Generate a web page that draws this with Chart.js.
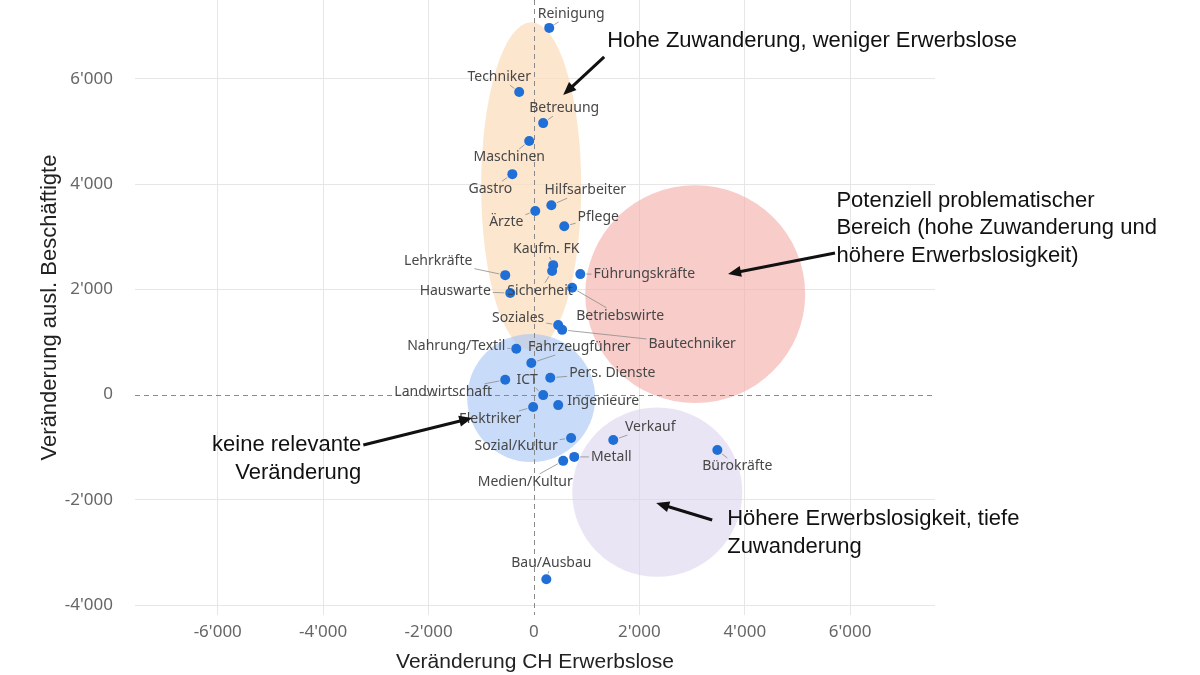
<!DOCTYPE html>
<html lang="de">
<head>
<meta charset="utf-8">
<title>Veränderung CH Erwerbslose vs. ausländische Beschäftigte</title>
<script src="https://cdn.jsdelivr.net/npm/chart.js@4.4.1/dist/chart.umd.min.js"></script>
<style>
	html, body { margin: 0; padding: 0; background: #fff; }
	#wrap { width: 1200px; height: 675px; }
</style>
</head>
<body>
<div id="wrap"><canvas id="chart" width="1200" height="675"></canvas></div>
<script>
// Data
const occupations = [
	'Reinigung', 'Techniker', 'Betreuung', 'Maschinen', 'Gastro', 'Hilfsarbeiter', 'Ärzte', 'Pflege',
	'Kaufm. FK', 'Sicherheit', 'Lehrkräfte', 'Führungskräfte', 'Hauswarte', 'Betriebswirte', 'Soziales',
	'Bautechniker', 'Nahrung/Textil', 'Fahrzeugführer', 'Landwirtschaft', 'ICT', 'Pers. Dienste',
	'Ingenieure', 'Elektriker', 'Sozial/Kultur', 'Verkauf', 'Metall', 'Medien/Kultur', 'Bürokräfte', 'Bau/Ausbau'
];
const changeUnemployed = [
	290, -280, 175, -90, -410, 330, 25, 575,
	365, 345, -545, 880, -450, 725, 460,
	535, -335, -50, -545, 175, 310,
	460, -15, 705, 1505, 765, 555, 3480, 235
];
const changeForeignEmployed = [
	6970, 5750, 5160, 4820, 4190, 3600, 3490, 3200,
	2460, 2350, 2270, 2290, 1930, 2030, 1320,
	1230, 870, 600, 280, -10, 320,
	-200, -235, -825, -865, -1185, -1260, -1055, -3510
];
const xTicks = [-6000, -4000, -2000, 0, 2000, 4000, 6000];
const yTicks = [-4000, -2000, 0, 2000, 4000, 6000];

// Label placement (pixel offset from the point to the label centre)
const labelOffsets = [
	[22, -14], [-20, -15], [21, -15], [-20, 16], [-22, 15], [34, -15], [-29, 11], [34, -9],
	[-7, -16], [-12, 20], [-67, -14], [64, 0], [-55, -2], [48, 28], [-40, -7],
	[130, 14], [-60, -3], [48, -16], [-62, 12], [-16, -15], [62, -5],
	[45, -4], [-43, 12], [-55, 8], [37, -13], [37, 0], [-38, 21], [20, 16], [5, -16]
];

// Shaded zones, in data units
const zones = [
	{ cx: -52, cy: 3957, rx: 949, ry: 3118, color: 'rgba(252,222,190,0.75)' },
	{ cx: 3060, cy: 1910, rx: 2087, ry: 2070, color: 'rgba(244,176,172,0.65)' },
	{ cx: 2340, cy: -1855, rx: 1613, ry: 1610, color: 'rgba(220,212,238,0.6)' },
	{ cx: -52, cy: -65, rx: 1214, ry: 1217, color: 'rgba(170,200,245,0.65)' }
];

// Callouts, in data units
const notes = [
	{ x: 1390, y: 6722, align: 'left', lines: ['Hohe Zuwanderung, weniger Erwerbslose'], from: [1333, 6418], to: [555, 5696] },
	{ x: 5740, y: 3681, align: 'left', lines: ['Potenziell problematischer', 'Bereich (hohe Zuwanderung und', 'höhere Erwerbslosigkeit)'], from: [5713, 2692], to: [3683, 2293] },
	{ x: -3276, y: -958, align: 'right', lines: ['keine relevante', 'Veränderung'], from: [-3238, -958], to: [-1172, -445] },
	{ x: 3667, y: -2365, align: 'left', lines: ['Höhere Erwerbslosigkeit, tiefe', 'Zuwanderung'], from: [3382, -2384], to: [2320, -2060] }
];

function fmtThousands(v) {
	const s = String(Math.abs(v)).replace(/\B(?=(\d{3})+(?!\d))/g, "'");
	return v < 0 ? '-' + s : s;
}

const LABEL_FONT = '14px "Noto Sans"';
const NOTE_FONT = '22px "Liberation Sans"';

const overlay = {
	id: 'overlay',
	beforeDatasetsDraw(chart) {
		const { ctx, chartArea: a, scales: { x, y } } = chart;
		ctx.save();
		ctx.beginPath();
		ctx.rect(a.left, a.top, a.right - a.left, a.bottom - a.top);
		ctx.clip();

		zones.forEach((z) => {
			const px = x.getPixelForValue(z.cx);
			const py = y.getPixelForValue(z.cy);
			ctx.fillStyle = z.color;
			ctx.beginPath();
			ctx.ellipse(px, py,
				Math.abs(x.getPixelForValue(z.cx + z.rx) - px),
				Math.abs(y.getPixelForValue(z.cy + z.ry) - py), 0, 0, Math.PI * 2);
			ctx.fill();
		});

		// dashed zero lines
		ctx.strokeStyle = '#8a8a8a';
		ctx.lineWidth = 1;
		ctx.setLineDash([5, 4]);
		const x0 = Math.round(x.getPixelForValue(0)) + 0.5;
		const y0 = Math.round(y.getPixelForValue(0)) + 0.5;
		ctx.beginPath();
		ctx.moveTo(x0, a.top); ctx.lineTo(x0, a.bottom);
		ctx.moveTo(a.left, y0); ctx.lineTo(a.right, y0);
		ctx.stroke();
		ctx.setLineDash([]);

		// leader lines
		ctx.font = LABEL_FONT;
		ctx.strokeStyle = '#8c8c8c';
		ctx.lineWidth = 0.8;
		occupations.forEach((name, i) => {
			const px = x.getPixelForValue(changeUnemployed[i]);
			const py = y.getPixelForValue(changeForeignEmployed[i]);
			const cx = px + labelOffsets[i][0];
			const cy = py + labelOffsets[i][1];
			const dx = px - cx, dy = py - cy;
			const len = Math.hypot(dx, dy);
			if (len < 1) return;
			const hw = ctx.measureText(name).width / 2 + 2;
			const hh = 8;
			const t = Math.min(dx ? hw / Math.abs(dx) : Infinity, dy ? hh / Math.abs(dy) : Infinity);
			if (t >= 1) return;
			const ex = cx + dx * t, ey = cy + dy * t;
			const sx = px - dx / len * 6, sy = py - dy / len * 6;
			if (Math.hypot(sx - ex, sy - ey) < 2 || (sx - ex) * dx + (sy - ey) * dy < 0) return;
			ctx.beginPath();
			ctx.moveTo(ex, ey);
			ctx.lineTo(sx, sy);
			ctx.stroke();
		});
		ctx.restore();
	},
	afterDatasetsDraw(chart) {
		const { ctx, scales: { x, y } } = chart;
		ctx.save();
		ctx.font = LABEL_FONT;
		ctx.fillStyle = '#474747';
		ctx.textAlign = 'center';
		ctx.textBaseline = 'middle';
		occupations.forEach((name, i) => {
			const px = x.getPixelForValue(changeUnemployed[i]);
			const py = y.getPixelForValue(changeForeignEmployed[i]);
			ctx.fillText(name, px + labelOffsets[i][0], py + labelOffsets[i][1]);
		});

		// callouts with arrows
		ctx.font = NOTE_FONT;
		ctx.fillStyle = '#111';
		ctx.strokeStyle = '#111';
		ctx.lineWidth = 3;
		notes.forEach((n) => {
			ctx.textAlign = n.align;
			const tx = x.getPixelForValue(n.x);
			const ty = y.getPixelForValue(n.y);
			n.lines.forEach((line, k) => ctx.fillText(line, tx, ty + k * 27.5));

			const fx = x.getPixelForValue(n.from[0]), fy = y.getPixelForValue(n.from[1]);
			const ax = x.getPixelForValue(n.to[0]), ay = y.getPixelForValue(n.to[1]);
			const ang = Math.atan2(ay - fy, ax - fx);
			const head = 13, wing = 5.5;
			ctx.beginPath();
			ctx.moveTo(fx, fy);
			ctx.lineTo(ax - Math.cos(ang) * head * 0.8, ay - Math.sin(ang) * head * 0.8);
			ctx.stroke();
			ctx.beginPath();
			ctx.moveTo(ax, ay);
			ctx.lineTo(ax - Math.cos(ang) * head - Math.sin(ang) * wing, ay - Math.sin(ang) * head + Math.cos(ang) * wing);
			ctx.lineTo(ax - Math.cos(ang) * head + Math.sin(ang) * wing, ay - Math.sin(ang) * head - Math.cos(ang) * wing);
			ctx.closePath();
			ctx.fill();
		});
		ctx.restore();
	}
};

new Chart(document.getElementById('chart'), {
	type: 'scatter',
	data: {
		datasets: [{
			data: occupations.map((_, i) => ({ x: changeUnemployed[i], y: changeForeignEmployed[i] })),
			backgroundColor: '#1f6fd6',
			borderWidth: 0,
			pointRadius: 5,
			pointHoverRadius: 5
		}]
	},
	options: {
		responsive: false,
		animation: false,
		layout: { autoPadding: false, padding: { left: 0, right: 265, top: 0, bottom: 0 } },
		plugins: { legend: { display: false }, tooltip: { enabled: false } },
		scales: {
			x: {
				type: 'linear',
				min: -7570,
				max: 7610,
				afterBuildTicks: (s) => { s.ticks = xTicks.map(v => ({ value: v })); },
				afterFit: (s) => { s.height = 60; s.paddingLeft = 0; s.paddingRight = 0; },
				grid: { color: (c) => (c.tick && c.tick.value === 0 ? 'rgba(0,0,0,0)' : '#e6e6e6'), drawTicks: false },
				border: { display: false },
				ticks: { padding: 7, color: '#666', font: { family: 'Noto Sans', size: 17 }, callback: fmtThousands },
				title: { display: true, text: 'Veränderung CH Erwerbslose', color: '#222', font: { family: 'Liberation Sans', size: 21 }, padding: { top: 0, bottom: 0 } }
			},
			y: {
				type: 'linear',
				min: -4190,
				max: 7500,
				afterBuildTicks: (s) => { s.ticks = yTicks.map(v => ({ value: v })); },
				afterFit: (s) => { s.width = 135; s.paddingTop = 0; s.paddingBottom = 0; },
				grid: { color: (c) => (c.tick && c.tick.value === 0 ? 'rgba(0,0,0,0)' : '#e6e6e6'), drawTicks: false },
				border: { display: false },
				ticks: { padding: 22, color: '#666', font: { family: 'Noto Sans', size: 17 }, callback: fmtThousands },
				title: { display: true, text: 'Veränderung ausl. Beschäftigte', color: '#222', font: { family: 'Liberation Sans', size: 22 }, padding: { top: 37, bottom: 0 } }
			}
		}
	},
	plugins: [overlay]
});
</script>
</body>
</html>
